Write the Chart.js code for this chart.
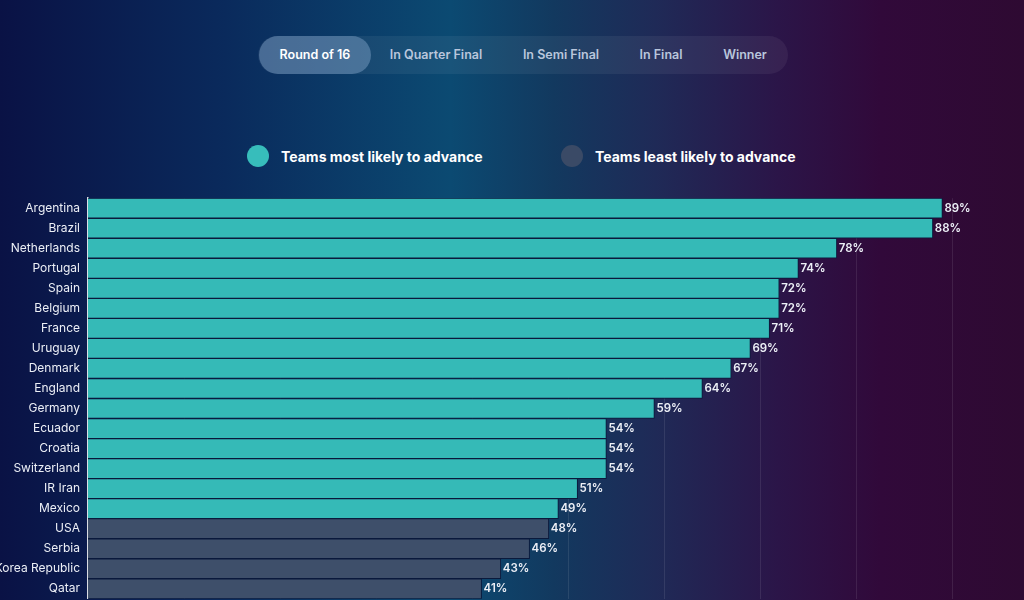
<!DOCTYPE html>
<html>
<head>
<meta charset="utf-8">
<script src="https://cdn.jsdelivr.net/npm/chart.js@4"></script>
<style>
  html, body {
    margin: 0;
    width: 1024px;
    height: 600px;
    overflow: hidden;
    font-family: Inter, "Noto Sans", sans-serif;
  }
  body {
    position: relative;
    background: linear-gradient(to right, #0a1245 0%, #0a2a5c 22%, #0b4a72 44%, #12395f 54%, #1f2a57 64%, #2b1548 76%, #31093a 86%, #2e0a32 100%);
  }
  .tabs {
    position: absolute;
    left: 258px;
    top: 36px;
    width: 530px;
    height: 38px;
    border-radius: 19px;
    background: rgba(255, 255, 255, 0.06);
  }
  .tab {
    position: absolute;
    top: 0;
    height: 38px;
    line-height: 38px;
    font-size: 12.5px;
    font-weight: 600;
    color: #b9c6dc;
    text-align: center;
    transform: translateX(-50%);
    white-space: nowrap;
  }
  .tab.active {
    width: 112px;
    border-radius: 19px;
    background: rgba(140, 175, 210, 0.42);
    color: #ffffff;
  }
  .legend {
    position: absolute;
    top: 145px;
    height: 24px;
    line-height: 24px;
    font-size: 14px;
    font-weight: 700;
    color: #ffffff;
    white-space: nowrap;
  }
  .legend .dot {
    position: absolute;
    left: -34px;
    top: 0;
    width: 22px;
    height: 22px;
    border-radius: 50%;
  }
  #wrap {
    position: absolute;
    left: 0;
    top: 183px;
    width: 1024px;
    height: 431px;
  }
</style>
</head>
<body>
<div class="tabs">
  <div class="tab active" style="transform:none;left:1px;">Round of 16</div>
  <div class="tab" style="left:178px;">In Quarter Final</div>
  <div class="tab" style="left:303px;">In Semi Final</div>
  <div class="tab" style="left:403px;">In Final</div>
  <div class="tab" style="left:487px;">Winner</div>
</div>

<div class="legend" style="left:281px;"><span class="dot" style="background:#37bdbb;"></span>Teams most likely to advance</div>
<div class="legend" style="left:595px;"><span class="dot" style="background:#3a4a66;"></span>Teams least likely to advance</div>

<div id="wrap"><canvas id="barChart"></canvas></div>

<script>
const teams = [
  "Argentina", "Brazil", "Netherlands", "Portugal", "Spain", "Belgium", "France",
  "Uruguay", "Denmark", "England", "Germany", "Ecuador", "Croatia", "Switzerland",
  "IR Iran", "Mexico", "USA", "Serbia", "Korea Republic", "Qatar"
];
const chances = [89, 88, 78, 74, 72, 72, 71, 69, 67, 64, 59, 54, 54, 54, 51, 49, 48, 46, 43, 41];
// true = teams most likely to advance
const mostLikely = [
  true, true, true, true, true, true, true, true, true, true,
  true, true, true, true, true, true, false, false, false, false
];
const xTicks = [10, 20, 30, 40, 50, 60, 70, 80, 90];

const tealColor = "#35bab7";
const grayColor = "#3e4f6a";
const textColor = "#eceff6";

const valueLabels = {
  id: "valueLabels",
  afterDatasetsDraw(chart) {
    const ctx = chart.ctx;
    const meta = chart.getDatasetMeta(0);
    ctx.save();
    ctx.font = "600 11.5px Inter, sans-serif";
    ctx.fillStyle = textColor;
    ctx.textAlign = "left";
    ctx.textBaseline = "middle";
    meta.data.forEach((bar, i) => {
      ctx.fillText(chances[i] + "%", bar.x + 2, bar.y);
    });
    ctx.restore();
  }
};

new Chart(document.getElementById("barChart"), {
  type: "bar",
  data: {
    labels: teams,
    datasets: [
      {
        label: "Chance to advance",
        data: chances,
        backgroundColor: mostLikely.map(m => m ? tealColor : grayColor),
        borderColor: "#0b1a3c",
        borderWidth: 1,
        barPercentage: 1,
        categoryPercentage: 1
      }
    ]
  },
  options: {
    indexAxis: "y",
    responsive: true,
    maintainAspectRatio: false,
    animation: false,
    layout: {
      padding: { top: 4, right: 0, bottom: 3, left: 0 }
    },
    plugins: {
      legend: { display: false },
      tooltip: { enabled: false }
    },
    scales: {
      x: {
        min: 0,
        max: 97.5,
        afterBuildTicks: scale => {
          scale.ticks = xTicks.map(v => ({ value: v }));
        },
        grid: {
          color: "rgba(255, 255, 255, 0.09)",
          drawTicks: false
        },
        border: { display: false },
        ticks: { display: false }
      },
      y: {
        afterFit: scale => {
          scale.width = 88;
        },
        grid: { display: false, drawTicks: false },
        border: {
          display: true,
          color: "rgba(255, 255, 255, 0.85)",
          width: 1.5
        },
        ticks: {
          color: textColor,
          padding: 8,
          font: { family: "Inter, sans-serif", size: 12 }
        }
      }
    }
  },
  plugins: [valueLabels]
});
</script>
</body>
</html>
